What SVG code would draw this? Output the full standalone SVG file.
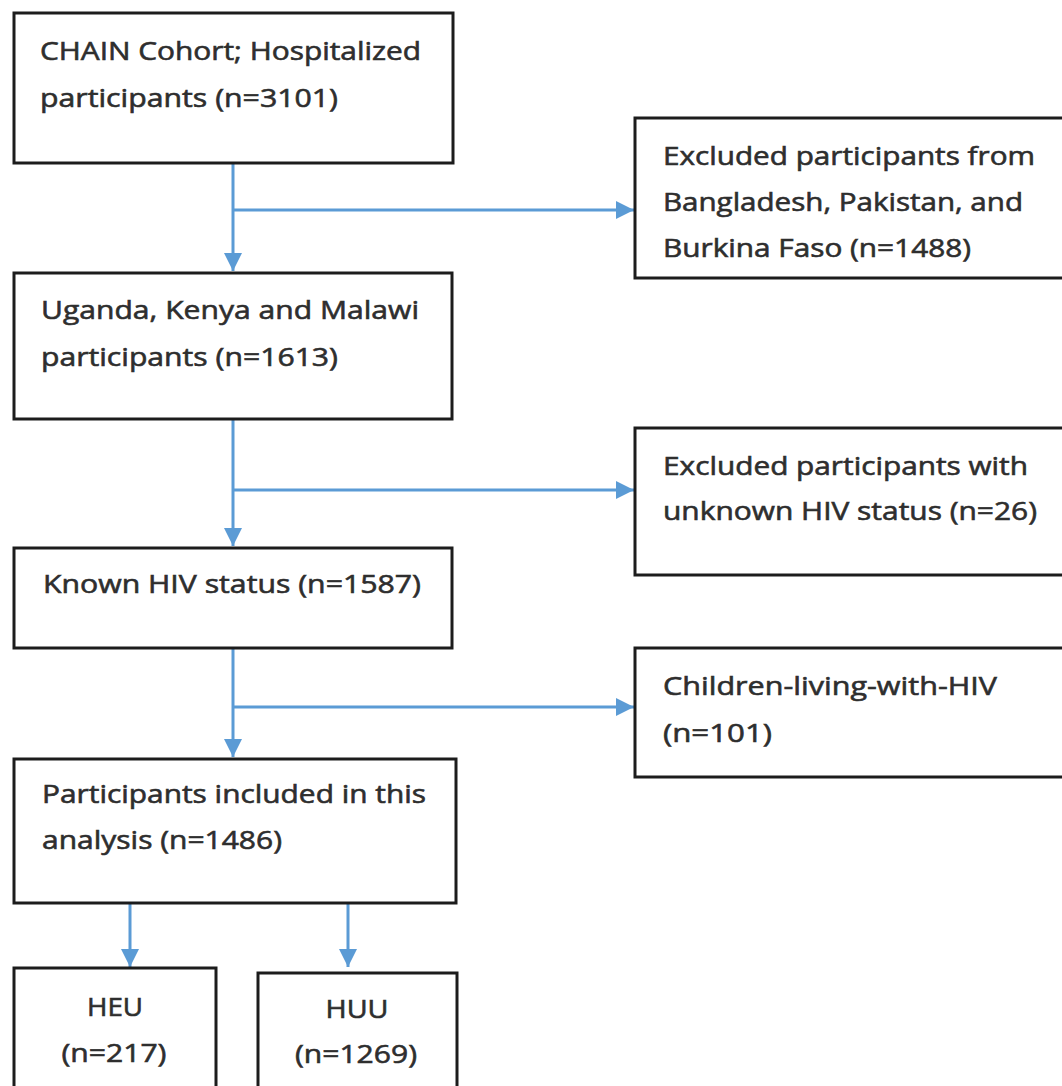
<svg xmlns="http://www.w3.org/2000/svg" width="1062" height="1086" viewBox="0 0 1062 1086">
<defs>
<marker id="ah" markerUnits="userSpaceOnUse" markerWidth="20" markerHeight="20" refX="18" refY="10" orient="auto">
<path d="M0,1 L18,10 L0,19 z" fill="#5B9BD5"/>
</marker>
<style>
.box{fill:#fff;stroke:#1c1c1c;stroke-width:3}
.t{font-family:"Open Sans","Liberation Sans",sans-serif;font-size:26px;fill:#2e2e2e;stroke:#2e2e2e;stroke-width:0.6}
.c{fill:none;stroke:#5B9BD5;stroke-width:3}
</style>
</defs>
<rect width="1062" height="1086" fill="#fff"/>
<g id="connectors">
<path class="c" d="M233,163 V271" marker-end="url(#ah)"/>
<path class="c" d="M233,210 H634" marker-end="url(#ah)"/>
<path class="c" d="M233,419 V546" marker-end="url(#ah)"/>
<path class="c" d="M233,490 H634" marker-end="url(#ah)"/>
<path class="c" d="M233,648 V757" marker-end="url(#ah)"/>
<path class="c" d="M233,707 H634" marker-end="url(#ah)"/>
<path class="c" d="M130,903 V967" marker-end="url(#ah)"/>
<path class="c" d="M348,903 V967" marker-end="url(#ah)"/>
</g>
<g id="n1">
<rect class="box" x="14" y="13" width="439" height="150"/>
<text class="t" x="40" y="60" textLength="381" lengthAdjust="spacingAndGlyphs">CHAIN Cohort; Hospitalized</text>
<text class="t" x="40" y="107" textLength="298" lengthAdjust="spacingAndGlyphs">participants (n=3101)</text>
</g>
<g id="n2">
<rect class="box" x="14" y="273" width="438" height="146"/>
<text class="t" x="41" y="319" textLength="378" lengthAdjust="spacingAndGlyphs">Uganda, Kenya and Malawi</text>
<text class="t" x="41" y="366" textLength="297" lengthAdjust="spacingAndGlyphs">participants (n=1613)</text>
</g>
<g id="n3">
<rect class="box" x="14" y="548" width="438" height="100"/>
<text class="t" x="43" y="593" textLength="378" lengthAdjust="spacingAndGlyphs">Known HIV status (n=1587)</text>
</g>
<g id="n4">
<rect class="box" x="14" y="759" width="442" height="144"/>
<text class="t" x="42" y="803" textLength="384" lengthAdjust="spacingAndGlyphs">Participants included in this</text>
<text class="t" x="42" y="849" textLength="240" lengthAdjust="spacingAndGlyphs">analysis (n=1486)</text>
</g>
<g id="n5">
<rect class="box" x="14" y="968" width="202" height="130"/>
<text class="t" x="115" y="1016" text-anchor="middle" textLength="56" lengthAdjust="spacingAndGlyphs">HEU</text>
<text class="t" x="114" y="1062" text-anchor="middle" textLength="105" lengthAdjust="spacingAndGlyphs">(n=217)</text>
</g>
<g id="n6">
<rect class="box" x="258" y="973" width="199" height="125"/>
<text class="t" x="357" y="1018" text-anchor="middle" textLength="63" lengthAdjust="spacingAndGlyphs">HUU</text>
<text class="t" x="356" y="1063" text-anchor="middle" textLength="122" lengthAdjust="spacingAndGlyphs">(n=1269)</text>
</g>
<g id="r1">
<rect class="box" x="635" y="118" width="440" height="160"/>
<text class="t" x="663" y="165" textLength="372" lengthAdjust="spacingAndGlyphs">Excluded participants from</text>
<text class="t" x="663" y="211" textLength="360" lengthAdjust="spacingAndGlyphs">Bangladesh, Pakistan, and</text>
<text class="t" x="663" y="257" textLength="308" lengthAdjust="spacingAndGlyphs">Burkina Faso (n=1488)</text>
</g>
<g id="r2">
<rect class="box" x="635" y="428" width="440" height="147"/>
<text class="t" x="663" y="475" textLength="365" lengthAdjust="spacingAndGlyphs">Excluded participants with</text>
<text class="t" x="663" y="520" textLength="374" lengthAdjust="spacingAndGlyphs">unknown HIV status (n=26)</text>
</g>
<g id="r3">
<rect class="box" x="635" y="648" width="440" height="129"/>
<text class="t" x="663" y="695" textLength="334" lengthAdjust="spacingAndGlyphs">Children-living-with-HIV</text>
<text class="t" x="663" y="742" textLength="109" lengthAdjust="spacingAndGlyphs">(n=101)</text>
</g>
</svg>
